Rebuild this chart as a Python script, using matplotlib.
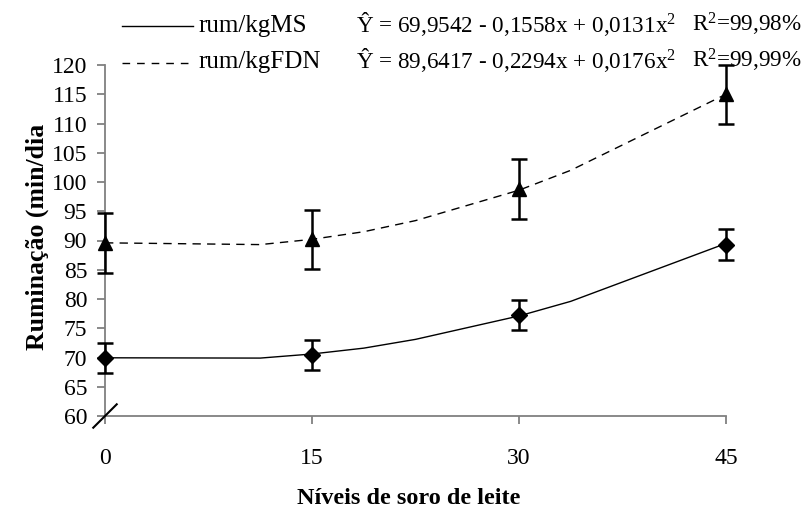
import matplotlib
matplotlib.use("Agg")
import matplotlib.pyplot as plt
from matplotlib.lines import Line2D

plt.rcParams['font.family'] = ['Liberation Serif', 'DejaVu Serif']
plt.rcParams['mathtext.fontset'] = 'custom'
plt.rcParams['mathtext.rm'] = 'Liberation Serif'
plt.rcParams['mathtext.it'] = 'Liberation Serif'

# Observed data
levels = [0, 15, 30, 45]
ms_mean = [69.9, 70.4, 77.3, 89.3]
ms_err = [2.6, 2.6, 2.6, 2.6]
fdn_mean = [89.6, 90.2, 98.8, 115.0]
fdn_err = [5.1, 5.0, 5.1, 5.0]

# Fitted curves as drawn
fit_x = [0, 11.25, 15, 18.75, 22.5, 30, 33.75, 45]
ms_fit = [69.95, 69.9, 70.6, 71.6, 73.1, 77.1, 79.6, 89.5]
fdn_fit = [89.6, 89.3, 90.2, 91.5, 93.4, 98.6, 102.0, 115.0]

yticks = list(range(60, 121, 5))
xticks = [0, 15, 30, 45]

legend_labels = ["rum/kgMS", "rum/kgFDN"]
equations = [r"Ŷ = 69,9542 - 0,1558x + 0,0131x$^{2}$",
             r"Ŷ = 89,6417 - 0,2294x + 0,0176x$^{2}$"]
r2_labels = [r"R$^{2}$=99,98%", r"R$^{2}$=99,99%"]

W, H = 808, 508
fig = plt.figure(figsize=(W / 100, H / 100), dpi=100)
ax = fig.add_axes([105 / W, 1 - 416 / H, (726 - 105) / W, (416 - 65) / H])

grey = '#808080'
fs_tick = 17
fs_leg = 18
fs_eq = 16.7
fs_lab = 17.5

ax.plot(fit_x, ms_fit, color='black', lw=1.0, zorder=2)
ax.plot(fit_x, fdn_fit, color='black', lw=1.0, dashes=(6, 4.5), zorder=2)

ax.errorbar(levels, ms_mean, yerr=ms_err, fmt='D', color='black', ms=8,
            ecolor='black', elinewidth=1.8, capsize=6, capthick=1.8, zorder=3,
            clip_on=False)
ax.errorbar(levels, fdn_mean, yerr=fdn_err, fmt='^', color='black', ms=10,
            ecolor='black', elinewidth=1.8, capsize=6, capthick=1.8, zorder=3,
            clip_on=False)

ax.set_xlim(0, 45)
ax.set_ylim(60, 120)
ax.set_xticks(xticks)
ax.set_xticklabels([str(v) for v in xticks], fontsize=fs_tick)
ax.set_yticks(yticks)
ax.set_yticklabels([str(v) for v in yticks], fontsize=fs_tick)

for s in ['top', 'right']:
    ax.spines[s].set_visible(False)
for s in ['left', 'bottom']:
    ax.spines[s].set_color(grey)
    ax.spines[s].set_linewidth(1.3)
ax.tick_params(axis='both', colors=grey, labelcolor='black', width=1.3, length=5.8,
               direction='out')
ax.tick_params(axis='x', pad=17)
ax.tick_params(axis='y', pad=7)

# axis break mark
ax.plot([-0.85, 0.85], [58.0, 62.0], color='black', lw=1.5, clip_on=False,
        transform=ax.transData, zorder=5)

ax.set_ylabel("Ruminação (min/dia", fontsize=fs_lab + 1, fontweight='bold', labelpad=2)
ax.yaxis.label.set_y(0.51)
ax.set_xlabel("Níveis de soro de leite", fontsize=fs_lab, fontweight='bold', labelpad=14)
ax.xaxis.label.set_x((409 - 105) / (726 - 105))

# legend / equations
base_y = [32, 68]
line_y = [26, 63]
styles = [dict(), dict(dashes=(5.5, 5))]
for i in range(2):
    yl = 1 - line_y[i] / H
    yb = 1 - base_y[i] / H
    fig.add_artist(Line2D([122 / W, 193 / W], [yl, yl], color='black', lw=1.0,
                          transform=fig.transFigure, **styles[i]))
    fig.text(198 / W, yb, legend_labels[i], fontsize=fs_leg, va='baseline', ha='left')
    fig.text(356 / W, yb, equations[i], fontsize=fs_eq, va='baseline', ha='left')
    fig.text(692 / W, yb, r2_labels[i], fontsize=fs_eq, va='baseline', ha='left')

fig.savefig("out.png", dpi=100)
